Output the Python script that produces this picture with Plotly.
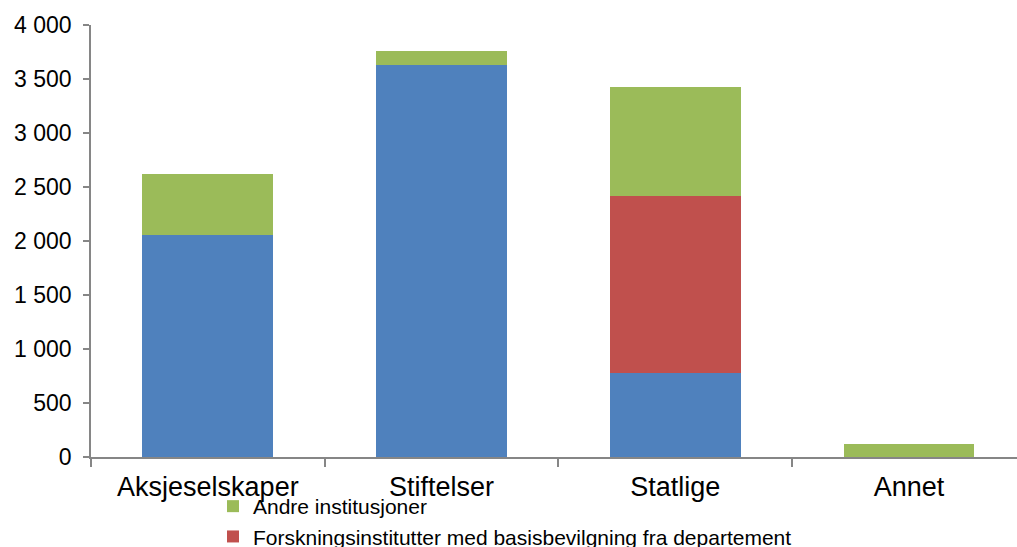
import plotly.graph_objects as go

# Categories (institution type) and stacked series values
categories = ["Aksjeselskaper", "Stiftelser", "Statlige", "Annet"]

series_names = [
    "Forskningsinstitutter med basisbevilgning fra Forskningsrådet",
    "Forskningsinstitutter med basisbevilgning fra departement",
    "Andre institusjoner",
]
basis_forskningsradet = [2055, 3630, 775, 0]
basis_departement = [0, 0, 1640, 0]
andre_institusjoner = [570, 125, 1010, 124]

y_ticks = [0, 500, 1000, 1500, 2000, 2500, 3000, 3500, 4000]

colors = ["#4F81BD", "#C0504D", "#9BBB59"]
values = [basis_forskningsradet, basis_departement, andre_institusjoner]

W, H = 1017, 547
m_l, m_r, m_t, m_b = 91, 0, 25, 90
plot_w = W - m_l - m_r
plot_h = H - m_t - m_b
cat_px = 233.7  # width of one category band in pixels

fig = go.Figure()
for name, vals, col in zip(series_names, values, colors):
    fig.add_trace(go.Bar(
        x=categories, y=vals, name=name,
        marker=dict(color=col, line=dict(width=0)),
    ))

font_family = "Liberation Sans, Arial, sans-serif"
axis_col = "#868686"

fig.update_layout(
    width=W, height=H,
    margin=dict(l=m_l, r=m_r, t=m_t, b=m_b, pad=0, autoexpand=False),
    barmode="stack",
    bargap=0.44,
    plot_bgcolor="white",
    paper_bgcolor="white",
    separators=", ",
    font=dict(family=font_family, color="#000000"),
    showlegend=True,
    legend=dict(
        orientation="v",
        x=(213 - m_l) / plot_w, xanchor="left",
        y=-(486 - (H - m_b)) / plot_h, yanchor="top",
        font=dict(size=21, family=font_family),
        bgcolor="rgba(0,0,0,0)",
        traceorder="reversed",
    ),
    xaxis=dict(
        range=[-0.5, -0.5 + plot_w / cat_px],
        showline=True, linecolor=axis_col, linewidth=1.5,
        ticks="outside", tickson="boundaries", ticklen=8,
        tickcolor=axis_col, tickwidth=1.5,
        ticklabelstandoff=5,
        tickfont=dict(size=27, family=font_family),
        showgrid=False, zeroline=False,
    ),
    yaxis=dict(
        range=[0, 4000],
        tickvals=y_ticks, tickformat=",d",
        showline=True, linecolor=axis_col, linewidth=1.5,
        ticks="outside", ticklen=6, tickcolor=axis_col, tickwidth=1.5,
        ticklabelstandoff=7,
        tickfont=dict(size=23, family=font_family),
        showgrid=False, zeroline=False,
    ),
)

fig.write_html("out.html")
